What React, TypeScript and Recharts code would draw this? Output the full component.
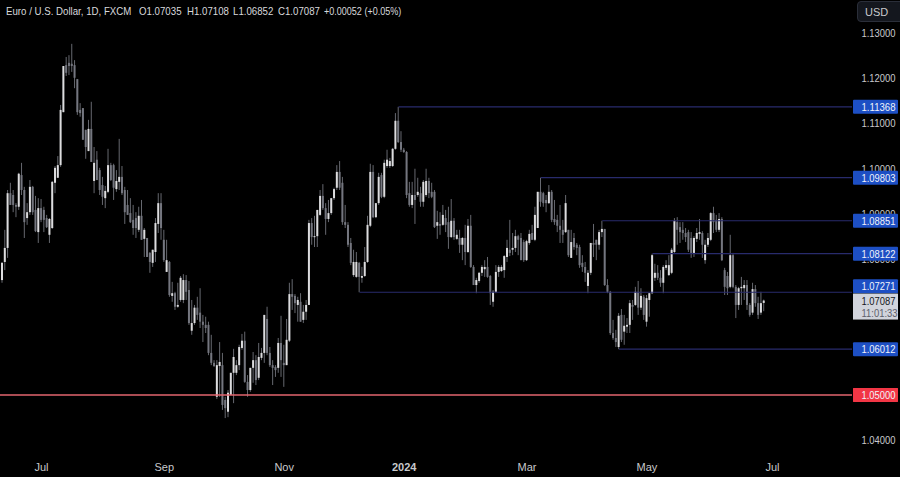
import React from "react";
import { ComposedChart, Bar, XAxis, YAxis, ReferenceLine } from "recharts";

const opens = [1.0754,1.0794,1.0825,1.0946,1.0942,1.0920,1.0916,1.0986,1.0953,1.0891,1.0904,1.0960,1.0909,1.0860,1.0913,1.0909,1.0891,1.0854,1.0869,1.0969,
1.0980,1.1008,1.1125,1.1229,1.1234,1.1232,1.1229,1.1198,1.1130,1.1134,1.1086,1.1039,1.1088,1.0973,1.1020,1.0997,1.0964,1.0935,1.0949,1.1008,
1.1008,1.0955,1.0971,1.0982,1.0953,1.0920,1.0902,1.0887,1.0891,1.0865,1.0896,1.0845,1.0847,1.0814,1.0792,1.0816,1.0878,1.0924,1.0843,1.0772,
1.0794,1.0719,1.0725,1.0695,1.0710,1.0710,1.0754,1.0732,1.0642,1.0659,1.0693,1.0682,1.0662,1.0655,1.0655,1.0593,1.0571,1.0496,1.0564,1.0566,
1.0489,1.0463,1.0500,1.0549,1.0549,1.0566,1.0604,1.0620,1.0529,1.0511,1.0560,1.0577,1.0538,1.0582,1.0593,1.0668,1.0593,1.0566,1.0562,1.0560,
1.0615,1.0571,1.0566,1.0620,1.0723,1.0719,1.0699,1.0706,1.0666,1.0684,1.0699,1.0880,1.0849,1.0851,1.0898,1.0940,1.0913,1.0889,1.0902,1.0935,
1.0958,1.0993,1.0969,1.0882,1.0876,1.0836,1.0765,1.0761,1.0792,1.0759,1.0763,1.0794,1.0874,1.0993,1.0893,1.0924,1.0986,1.0938,1.1006,1.1006,
1.1006,1.1044,1.1106,1.1059,1.1042,1.1037,1.0946,1.0920,1.0942,1.0942,1.0946,1.0927,1.0942,1.0973,1.0949,1.0949,1.0874,1.0878,1.0876,1.0891,
1.0882,1.0849,1.0885,1.0845,1.0847,1.0832,1.0847,1.0816,1.0874,1.0783,1.0743,1.0752,1.0770,1.0778,1.0783,1.0763,1.0706,1.0728,1.0772,1.0774,
1.0776,1.0805,1.0821,1.0821,1.0825,1.0851,1.0847,1.0838,1.0798,1.0836,1.0858,1.0843,1.0869,1.0949,1.0946,1.0931,1.0924,1.0949,1.0889,1.0887,
1.0874,1.0865,1.0860,1.0865,1.0803,1.0847,1.0832,1.0827,1.0792,1.0783,1.0741,1.0770,1.0836,1.0843,1.0832,1.0860,1.0867,1.0743,1.0728,1.0637,
1.0626,1.0606,1.0677,1.0640,1.0651,1.0655,1.0699,1.0699,1.0728,1.0693,1.0717,1.0662,1.0710,1.0725,1.0759,1.0770,1.0759,1.0748,1.0781,1.0765,
1.0770,1.0816,1.0882,1.0871,1.0865,1.0858,1.0860,1.0847,1.0814,1.0845,1.0856,1.0858,1.0798,1.0832,1.0843,1.0902,1.0887,1.0865,1.0889,1.0776,
1.0763,1.0739,1.0809,1.0739,1.0699,1.0736,1.0736,1.0743,1.0699,1.0682,1.0734,1.0703,1.0682,1.07035];

const closes = [1.0792,1.0825,1.0946,1.0920,1.0920,1.0916,1.0989,1.0953,1.0882,1.0904,1.0960,1.0904,1.0862,1.0913,1.0887,1.0887,1.0871,1.0889,1.0971,1.1002,
1.1008,1.1130,1.1227,1.1212,1.1227,1.1227,1.1201,1.1125,1.1123,1.1064,1.1048,1.1088,1.1015,1.1013,1.0975,1.0953,1.0938,1.0951,1.1008,1.0975,
1.0958,1.0973,1.0982,1.0946,1.0904,1.0898,1.0882,1.0869,1.0869,1.0896,1.0843,1.0865,1.0805,1.0794,1.0821,1.0880,1.0924,1.0869,1.0798,1.0798,
1.0721,1.0725,1.0695,1.0699,1.0759,1.0754,1.0728,1.0659,1.0659,1.0693,1.0677,1.0662,1.0655,1.0648,1.0593,1.0571,1.0564,1.0566,1.0573,1.0478,
1.0471,1.0505,1.0549,1.0584,1.0566,1.0606,1.0620,1.0529,1.0511,1.0560,1.0577,1.0533,1.0584,1.0593,1.0677,1.0593,1.0566,1.0560,1.0555,1.0615,
1.0577,1.0566,1.0622,1.0723,1.0717,1.0703,1.0710,1.0662,1.0684,1.0699,1.0880,1.0849,1.0851,1.0909,1.0940,1.0913,1.0889,1.0902,1.0935,1.0955,
1.0993,1.0958,1.0882,1.0876,1.0832,1.0792,1.0794,1.0794,1.0761,1.0763,1.0794,1.0876,1.0993,1.0893,1.0924,1.0982,1.0938,1.1013,1.1020,1.1017,
1.1044,1.1106,1.1059,1.1042,1.1037,1.0942,1.0920,1.0942,1.0931,1.0949,1.0927,1.0971,1.0973,1.0946,1.0938,1.0871,1.0882,1.0874,1.0898,1.0876,
1.0849,1.0885,1.0849,1.0854,1.0832,1.0847,1.0816,1.0874,1.0783,1.0743,1.0754,1.0770,1.0783,1.0783,1.0761,1.0725,1.0728,1.0772,1.0783,1.0783,
1.0807,1.0825,1.0814,1.0825,1.0851,1.0843,1.0798,1.0798,1.0840,1.0856,1.0843,1.0898,1.0949,1.0927,1.0924,1.0924,1.0949,1.0887,1.0882,1.0874,
1.0865,1.0854,1.0924,1.0809,1.0838,1.0827,1.0825,1.0787,1.0783,1.0770,1.0770,1.0836,1.0832,1.0832,1.0860,1.0867,1.0743,1.0728,1.0637,1.0626,
1.0617,1.0675,1.0622,1.0653,1.0655,1.0703,1.0695,1.0728,1.0693,1.0719,1.0677,1.0714,1.0725,1.0809,1.0770,1.0759,1.0748,1.0783,1.0787,1.0787,
1.0821,1.0885,1.0865,1.0860,1.0858,1.0849,1.0821,1.0814,1.0847,1.0858,1.0860,1.0832,1.0832,1.0847,1.0902,1.0882,1.0865,1.0889,1.0798,1.0739,
1.0736,1.0809,1.0739,1.0699,1.0736,1.0739,1.0743,1.0699,1.0677,1.0734,1.0703,1.0677,1.0703,1.07087];

const highs = [1.0794,1.0865,1.0953,1.0969,1.0953,1.0924,1.0991,1.1013,1.0960,1.0924,1.0975,1.0962,1.0940,1.0935,1.0933,1.0916,1.0898,1.0891,1.0973,1.1006,
1.1028,1.1141,1.1227,1.1247,1.1251,1.1276,1.1240,1.1198,1.1145,1.1134,1.1086,1.1108,1.1148,1.1048,1.1039,1.1002,1.0982,1.0962,1.1044,1.1013,
1.1011,1.0997,1.1066,1.1006,1.0960,1.0953,1.0935,1.0920,1.0904,1.0916,1.0931,1.0869,1.0847,1.0816,1.0821,1.0891,1.0946,1.0946,1.0865,1.0843,
1.0796,1.0750,1.0728,1.0748,1.0763,1.0767,1.0765,1.0752,1.0710,1.0699,1.0717,1.0736,1.0677,1.0673,1.0662,1.0633,1.0577,1.0577,1.0617,1.0593,
1.0496,1.0511,1.0549,1.0602,1.0577,1.0611,1.0635,1.0640,1.0544,1.0560,1.0595,1.0588,1.0615,1.0604,1.0677,1.0695,1.0606,1.0577,1.0566,1.0626,
1.0675,1.0611,1.0668,1.0748,1.0756,1.0723,1.0717,1.0725,1.0699,1.0710,1.0887,1.0891,1.0896,1.0909,1.0953,1.0966,1.0924,1.0931,1.0935,1.0958,
1.1008,1.1017,1.0982,1.0920,1.0882,1.0847,1.0821,1.0816,1.0794,1.0783,1.0827,1.0896,1.1011,1.1008,1.0924,1.0991,1.0991,1.1020,1.1042,1.1024,
1.1046,1.1123,1.11368,1.1083,1.1046,1.1039,1.0971,1.0971,1.1000,1.0980,1.0960,1.0975,1.1000,1.0980,1.0969,1.0953,1.0907,1.0904,1.0920,1.0909,
1.0916,1.0933,1.0891,1.0865,1.0865,1.0849,1.0876,1.0889,1.0898,1.0787,1.0759,1.0772,1.0787,1.0798,1.0805,1.0765,1.0732,1.0787,1.0787,1.0787,
1.0809,1.0843,1.0887,1.0858,1.0865,1.0854,1.0858,1.0843,1.0843,1.0865,1.0876,1.0916,1.0949,1.09803,1.0949,1.0942,1.0964,1.0953,1.0931,1.0898,
1.0920,1.0887,1.0942,1.0865,1.0865,1.0858,1.0836,1.0832,1.0809,1.0794,1.0776,1.0836,1.0878,1.0843,1.0865,1.08851,1.0867,1.0756,1.0730,1.0666,
1.0644,1.0681,1.0690,1.0677,1.0670,1.0710,1.0710,1.0739,1.0752,1.0736,1.0721,1.0721,1.0725,1.08122,1.0790,1.0787,1.0776,1.0787,1.0798,1.0809,
1.0825,1.0891,1.0893,1.0882,1.0882,1.0869,1.0865,1.0860,1.0851,1.0869,1.0889,1.0862,1.0843,1.0858,1.0904,1.0916,1.0898,1.0902,1.0893,1.0781,
1.0772,1.0854,1.0814,1.0743,1.0739,1.0761,1.0754,1.0754,1.0703,1.0748,1.0743,1.0717,1.0728,1.07108];

const lows = [1.0748,1.0776,1.0803,1.0920,1.0904,1.0893,1.0909,1.0942,1.0847,1.0876,1.0898,1.0898,1.0860,1.0836,1.0882,1.0860,1.0869,1.0836,1.0867,1.0946,
1.0980,1.1004,1.1125,1.1205,1.1207,1.1214,1.1178,1.1119,1.1115,1.1064,1.1022,1.1039,1.1015,1.0946,1.0975,1.0942,1.0920,1.0913,1.0946,1.0973,
1.0931,1.0949,1.0953,1.0942,1.0878,1.0898,1.0880,1.0854,1.0847,1.0860,1.0843,1.0805,1.0805,1.0770,1.0783,1.0794,1.0858,1.0843,1.0794,1.0772,
1.0717,1.0706,1.0688,1.0693,1.0706,1.0703,1.0710,1.0655,1.0633,1.0655,1.0666,1.0648,1.0617,1.0637,1.0588,1.0566,1.0562,1.0491,1.0496,1.0467,
1.0449,1.0451,1.0500,1.0482,1.0544,1.0555,1.0600,1.0527,1.0496,1.0507,1.0527,1.0522,1.0533,1.0577,1.0571,1.0588,1.0562,1.0522,1.0540,1.0549,
1.0540,1.0518,1.0566,1.0617,1.0688,1.0681,1.0662,1.0662,1.0659,1.0666,1.0699,1.0832,1.0827,1.0827,1.0896,1.0909,1.0854,1.0882,1.0898,1.0931,
1.0953,1.0953,1.0876,1.0869,1.0827,1.0787,1.0761,1.0759,1.07271,1.0748,1.0761,1.0792,1.0871,1.0891,1.0891,1.0920,1.0935,1.0935,1.1002,1.1002,
1.1004,1.1042,1.1057,1.1037,1.1035,1.0935,1.0916,1.0913,1.0878,1.0938,1.0916,1.0916,1.0938,1.0935,1.0935,1.0869,1.0845,1.0854,1.0874,1.0860,
1.0823,1.0847,1.0843,1.0843,1.0814,1.0798,1.0787,1.0814,1.0781,1.0743,1.0725,1.0748,1.0763,1.0761,1.0759,1.0699,1.0695,1.0725,1.0761,1.0772,
1.0759,1.0794,1.0807,1.0809,1.0816,1.0809,1.0798,1.0794,1.0796,1.0832,1.0843,1.0840,1.0869,1.0916,1.0916,1.0904,1.0922,1.0882,1.0876,1.0860,
1.0836,1.0836,1.0858,1.0805,1.0803,1.0821,1.0809,1.0781,1.0772,1.0750,1.0725,1.0765,1.0805,1.0798,1.0821,1.0849,1.0741,1.0725,1.0633,1.0622,
1.0606,1.06012,1.0617,1.0611,1.0637,1.0637,1.0666,1.0697,1.0677,1.0688,1.0666,1.0651,1.0673,1.0723,1.0752,1.0754,1.0739,1.0725,1.0776,1.0763,
1.0767,1.0814,1.0832,1.0836,1.0843,1.0838,1.0816,1.0803,1.0805,1.0838,1.0843,1.0803,1.0790,1.0827,1.0840,1.0858,1.0860,1.0860,1.0796,1.0721,
1.0721,1.0736,1.0736,1.0670,1.0688,1.0699,1.0710,1.0688,1.0673,1.0677,1.0695,1.0668,1.0677,1.06852];

const xTickValues = [14, 58, 101, 144, 188, 231, 276];
const xTickLabels = ["Jul", "Sep", "Nov", "2024", "Mar", "May", "Jul"];
const priceTicks = [1.13, 1.12, 1.11, 1.1, 1.09, 1.08, 1.07, 1.06, 1.05, 1.04];

const blueLevels = [1.11368, 1.09803, 1.08851, 1.08122, 1.07271, 1.06012];
const blueStarts = [142, 193, 215, 233, 128, 221];
const redLevel = 1.05;
const lastPrice = 1.07087;
const countdown = "11:01:33";

const header = "Euro / U.S. Dollar, 1D, FXCM";
const ohlcText = ["O1.07035", "H1.07108", "L1.06852", "C1.07087", "+0.00052 (+0.05%)"];
const currency = "USD";

const rows = opens.map((o, i) => ({
  idx: i,
  open: o,
  high: highs[i],
  low: lows[i],
  close: closes[i],
  range: [lows[i], highs[i]],
}));

const FONT = "'Liberation Sans', Arial, sans-serif";
const X_MIN = -0.86;
const X_MAX = 304.5;

function Candle(props: any) {
  const { x, y, width, height, payload } = props;
  const k = height / Math.max(payload.high - payload.low, 1e-6);
  const yOpen = y + (payload.high - payload.open) * k;
  const yClose = y + (payload.high - payload.close) * k;
  const up = payload.close >= payload.open;
  const top = Math.min(yOpen, yClose);
  const h = Math.max(Math.abs(yOpen - yClose), 1);
  const cx = x + width / 2;
  return (
    <g>
      <line x1={cx} x2={cx} y1={y} y2={y + height} stroke="#66686f" strokeWidth={1} />
      <rect x={x} y={top} width={width} height={h} fill={up ? "#dcdcde" : "#74767f"} />
    </g>
  );
}

function PriceTick(props: any) {
  const { x, y, payload } = props;
  const v = payload.value;
  const text = Number(v).toFixed(5);
  const left = x + 1;
  const label = (tx: string, ty: number, color: string, len: number) => (
    <text x={left + 8.5} y={ty} fontFamily={FONT} fontSize={11} fill={color} textLength={len} lengthAdjust="spacingAndGlyphs">{tx}</text>
  );
  if (blueLevels.includes(v) || v === redLevel) {
    const cy = v === 1.07271 ? y - 6 : y;
    return (
      <g>
        <rect x={left} y={cy - 7} width={45} height={14} fill={v === redLevel ? "#f23645" : "#1d4fc4"} rx={1} />
        {label(text, cy + 4, "#f0f3fa", 34)}
      </g>
    );
  }
  if (v === lastPrice) {
    return (
      <g>
        <rect x={left} y={y - 7} width={45} height={26} fill="#d1d4dc" />
        {label(text, y + 4, "#131722", 34)}
        {label(countdown, y + 16, "#5d606b", 36)}
      </g>
    );
  }
  return label(text, y + 4, "#c8c9cc", 34);
}

function TimeTick(props: any) {
  const { x, y, payload } = props;
  const i = xTickValues.indexOf(payload.value);
  const label = xTickLabels[i];
  return (
    <text x={x} y={y + 14} textAnchor="middle" fontFamily={FONT} fontSize={11}
      fontWeight={label === "2024" ? 700 : 400} fill="#c8c9cc">{label}</text>
  );
}

const headerLefts = [139, 187, 233, 278, 324];
const headerScales = [0.88, 0.88, 0.88, 0.88, 0.82];

const headerStyle = (left: number, scale: number): React.CSSProperties => ({
  position: "absolute",
  left,
  top: 4,
  color: "#d8d9dc",
  fontFamily: FONT,
  fontSize: 11,
  lineHeight: "14px",
  whiteSpace: "nowrap",
  transform: `scaleX(${scale})`,
  transformOrigin: "left center",
});

export default function App() {
  return (
    <div style={{ position: "fixed", left: 0, top: 0, width: 900, height: 477, background: "#000", overflow: "hidden" }}>
      <ComposedChart width={900} height={477} data={rows} margin={{ top: 0, right: 0, bottom: 0, left: 0 }}>
        <XAxis
          dataKey="idx"
          type="number"
          domain={[X_MIN, X_MAX]}
          allowDataOverflow
          ticks={xTickValues}
          interval={0}
          height={22}
          tickLine={false}
          axisLine={false}
          tickSize={0}
          tick={<TimeTick />}
        />
        <YAxis
          orientation="right"
          type="number"
          domain={[1.03674, 1.13729]}
          allowDataOverflow
          ticks={[...priceTicks, ...blueLevels, redLevel, lastPrice]}
          interval={0}
          width={48}
          tickLine={false}
          axisLine={false}
          tickSize={0}
          tickMargin={0}
          tick={<PriceTick />}
        />
        {blueLevels.map((lv, i) => (
          <ReferenceLine
            key={lv}
            segment={[{ x: blueStarts[i], y: lv }, { x: X_MAX, y: lv }]}
            stroke="#282b6c"
            strokeWidth={1.2}
          />
        ))}
        <ReferenceLine y={redLevel} stroke="#e2646e" strokeWidth={1.3} />
        <Bar dataKey="range" barSize={2} isAnimationActive={false} shape={Candle} />
      </ComposedChart>
      <div style={{ position: "absolute", left: 857, top: 1, width: 50, height: 21, boxSizing: "border-box", background: "#14171e", border: "1px solid #2a2e39", borderRadius: 4, color: "#c8c9cc", fontFamily: FONT, fontSize: 11, lineHeight: "20px", paddingLeft: 7 }}>
        {currency}
      </div>
      <div style={headerStyle(6, 0.88)}>{header}</div>
      {ohlcText.map((t, i) => (
        <div key={t} style={headerStyle(headerLefts[i], headerScales[i])}>{t}</div>
      ))}
    </div>
  );
}
